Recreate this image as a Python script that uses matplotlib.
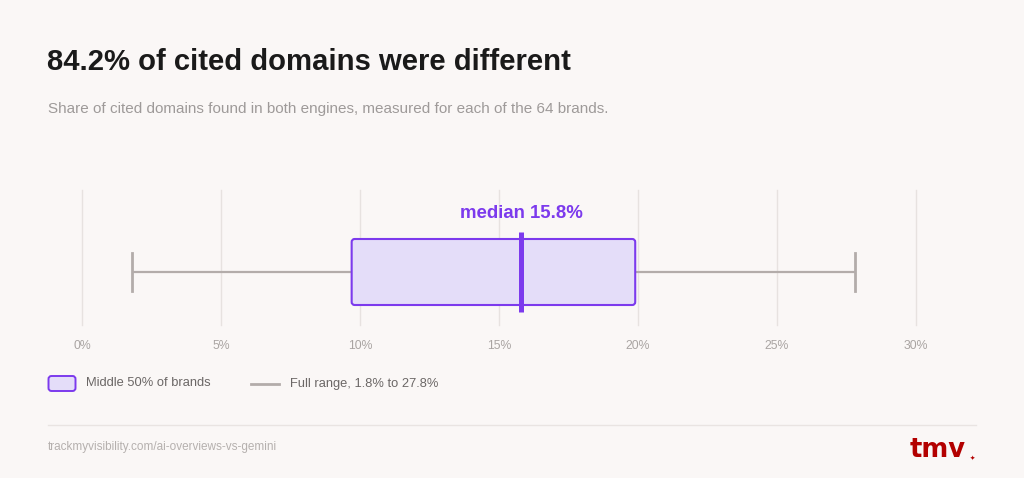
import matplotlib
matplotlib.use("Agg")
import matplotlib.pyplot as plt
from matplotlib.patches import FancyBboxPatch
from matplotlib.lines import Line2D

# ---- data ----
title = "84.2% of cited domains were different"
subtitle = "Share of cited domains found in both engines, measured for each of the 64 brands."
stat_min = 1.8
stat_q1 = 9.7
stat_median = 15.8
stat_q3 = 19.9
stat_max = 27.8
tick_values = [0, 5, 10, 15, 20, 25, 30]
tick_labels = ["0%", "5%", "10%", "15%", "20%", "25%", "30%"]
legend_box_label = "Middle 50% of brands"
legend_range_label = "Full range, 1.8% to 27.8%"
footer = "trackmyvisibility.com/ai-overviews-vs-gemini"

# ---- style ----
BG = "#faf7f6"
PURPLE = "#7c3aed"
BOX_FILL = "#e4ddf9"
WHISK = "#b3acaa"
GRID = "#e7e2e0"
W, H = 1024, 478

plt.rcParams["font.family"] = ["Liberation Sans", "DejaVu Sans"]
fig = plt.figure(figsize=(W / 100, H / 100), dpi=100, facecolor=BG)

def fx(px):
    return px / W

def fy(py):
    return 1 - py / H

# titles
fig.text(fx(47), fy(62), title, fontsize=21.1, fontweight="bold", color="#1a1a1a",
         va="center", ha="left")
fig.text(fx(48), fy(109), subtitle, fontsize=10.95, color="#9e9a99", va="center", ha="left")

# main axes
ax_left, ax_right, ax_top, ax_bot = 82, 916, 190, 325
ax = fig.add_axes([fx(ax_left), fy(ax_bot), fx(ax_right - ax_left), (ax_bot - ax_top) / H])
ax.set_facecolor("none")
ax.set_xlim(tick_values[0], tick_values[-1])
ax.set_ylim(0, 1)
for s in ax.spines.values():
    s.set_visible(False)
ax.set_yticks([])
ax.set_xticks(tick_values)
ax.set_xticklabels(tick_labels, fontsize=8.8, color="#a9a4a2")
ax.tick_params(axis="x", length=0, pad=10.5)
for t in tick_values:
    ax.axvline(t, color=GRID, lw=1, zorder=0, clip_on=False)

px_per_x = (ax_right - ax_left) / (tick_values[-1] - tick_values[0])
px_per_y = (ax_bot - ax_top)
yc = (ax_bot - 272) / px_per_y
box_h = 66 / px_per_y
cap_h = 38 / px_per_y
med_h = 80 / px_per_y

# whiskers
ax.plot([stat_min, stat_q1], [yc, yc], color=WHISK, lw=1.6, zorder=1, solid_capstyle="butt")
ax.plot([stat_q3, stat_max], [yc, yc], color=WHISK, lw=1.6, zorder=1, solid_capstyle="butt")
ax.plot([stat_min, stat_min], [yc - cap_h / 2, yc + cap_h / 2], color=WHISK, lw=2, zorder=1)
ax.plot([stat_max, stat_max], [yc - cap_h / 2, yc + cap_h / 2], color=WHISK, lw=2, zorder=1)

# box
rs = 3 / px_per_x
box = FancyBboxPatch((stat_q1, yc - box_h / 2), stat_q3 - stat_q1, box_h,
                     boxstyle=f"round,pad=0,rounding_size={rs}",
                     mutation_aspect=px_per_x / px_per_y,
                     facecolor=BOX_FILL, edgecolor=PURPLE, lw=1.5, zorder=2)
ax.add_patch(box)

# median
ax.plot([stat_median, stat_median], [yc - med_h / 2, yc + med_h / 2], color=PURPLE,
        lw=3.6, zorder=3, solid_capstyle="butt")
ax.text(stat_median, (ax_bot - 213) / px_per_y, f"median {stat_median}%", color=PURPLE,
        fontsize=13.4, fontweight="bold", ha="center", va="center", zorder=4)

# legend
leg = fig.add_axes([0, 0, 1, 1], facecolor="none")
leg.set_xlim(0, W)
leg.set_ylim(H, 0)
leg.axis("off")
leg.add_patch(FancyBboxPatch((48.5, 376), 27, 15, boxstyle="round,pad=0,rounding_size=3",
                             facecolor=BOX_FILL, edgecolor=PURPLE, lw=1.4))
leg.text(86, 383.5, legend_box_label, fontsize=9.3, color="#6b6766", va="center", ha="left")
leg.add_line(Line2D([251, 279], [383.5, 383.5], color=WHISK, lw=2))
leg.text(290, 383.5, legend_range_label, fontsize=9.3, color="#6b6766", va="center", ha="left")

# footer
leg.add_line(Line2D([48, 976], [425, 425], color="#e9e4e2", lw=1))
leg.text(48, 447, footer, fontsize=8.5, color="#b5b0ae", va="center", ha="left")
leg.text(966, 450, "tmv", fontsize=18.5, fontweight="bold", color="#b30000", va="center",
         ha="right", family=["DejaVu Sans"])
leg.text(972, 458, "✦", fontsize=4.5, color="#b30000", va="center", ha="center",
         family=["DejaVu Sans"])

fig.savefig("out.png", dpi=100, facecolor=BG)
